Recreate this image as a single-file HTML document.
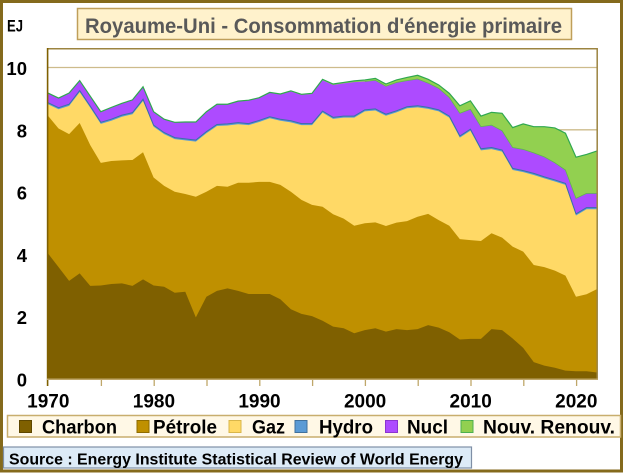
<!DOCTYPE html>
<html><head><meta charset="utf-8"><style>html,body{margin:0;padding:0;background:#fff;}svg{display:block;}</style></head>
<body>
<svg width="626" height="474" viewBox="0 0 626 474" xmlns="http://www.w3.org/2000/svg" font-family="'Liberation Sans', Arial, sans-serif" font-weight="bold">
<defs><clipPath id="pc"><rect x="48" y="48.5" width="549.5" height="330.5"/></clipPath></defs>
<rect x="0" y="0" width="626" height="474" fill="#fff"/>
<rect x="1.5" y="1.5" width="620" height="469.5" fill="none" stroke="#846A1C" stroke-width="3"/>

<!-- Title -->
<rect x="77.5" y="8.5" width="494" height="31" fill="#FFF2CC" stroke="#BF9F5A" stroke-width="1.5"/>
<text x="85" y="33" font-size="21" fill="#595959" textLength="477" lengthAdjust="spacingAndGlyphs">Royaume-Uni - Consommation d'énergie primaire</text>
<text x="7" y="31.5" font-size="17" fill="#000" textLength="16" lengthAdjust="spacingAndGlyphs">EJ</text>

<!-- plot bg -->
<rect x="48" y="48.5" width="549.5" height="330.5" fill="#fff"/>
<g stroke="#CDBB8B" stroke-width="1.3">
<line x1="48" x2="597.5" y1="67.5" y2="67.5"/>
<line x1="48" x2="597.5" y1="129.8" y2="129.8"/>
<line x1="48" x2="597.5" y1="192.1" y2="192.1"/>
<line x1="48" x2="597.5" y1="254.4" y2="254.4"/>
<line x1="48" x2="597.5" y1="316.7" y2="316.7"/>
</g>

<g clip-path="url(#pc)">
<g transform="translate(48,379) scale(10.56,-31.15)">
<!-- Renouv (total) -->
<polygon fill="#92D050" points="0,0 0,9.18 1,9.02 2,9.18 3,9.58 4,9.08 5,8.58 6,8.72 7,8.85 8,8.96 9,9.38 10,8.58 11,8.34 12,8.24 13,8.25 14,8.25 15,8.58 16,8.82 17,8.82 18,8.92 19,8.95 20,9.03 21,9.2 22,9.15 23,9.25 24,9.14 25,9.17 26,9.62 27,9.47 28,9.52 29,9.57 30,9.6 31,9.65 32,9.47 33,9.6 34,9.68 35,9.75 36,9.62 37,9.44 38,9.17 39,8.77 40,8.93 41,8.44 42,8.56 43,8.53 44,8.07 45,8.19 46,8.1 47,8.1 48,8.06 49,7.89 50,7.12 51,7.21 52,7.32 52,0"/>
<!-- Nucl -->
<polygon fill="#AD4BFF" points="0,0 0,9.18 1,9.02 2,9.18 3,9.58 4,9.08 5,8.58 6,8.72 7,8.85 8,8.96 9,9.38 10,8.58 11,8.34 12,8.24 13,8.25 14,8.25 15,8.58 16,8.82 17,8.82 18,8.92 19,8.95 20,9.02 21,9.19 22,9.13 23,9.23 24,9.12 25,9.15 26,9.59 27,9.44 28,9.49 29,9.53 30,9.55 31,9.59 32,9.4 33,9.52 34,9.58 35,9.63 36,9.5 37,9.33 38,9.04 39,8.53 40,8.66 41,8.1 42,8.15 43,7.97 44,7.43 45,7.37 46,7.26 47,7.13 48,6.94 49,6.71 50,5.8 51,5.96 52,5.96 52,0"/>
<!-- Hydro -->
<polygon fill="#5B9BD5" points="0,0 0,8.87 1,8.71 2,8.82 3,9.26 4,8.76 5,8.24 6,8.34 7,8.47 8,8.55 9,8.98 10,8.15 11,7.91 12,7.75 13,7.71 14,7.67 15,7.94 16,8.17 17,8.19 18,8.23 19,8.2 20,8.3 21,8.42 22,8.34 23,8.29 24,8.2 25,8.2 26,8.6 27,8.4 28,8.44 29,8.44 30,8.64 31,8.67 32,8.5 33,8.61 34,8.74 35,8.77 36,8.72 37,8.64 38,8.44 39,7.8 40,8.02 41,7.39 42,7.43 43,7.35 44,6.76 45,6.69 46,6.6 47,6.49 48,6.39 49,6.28 50,5.3 51,5.5 52,5.5 52,0"/>
<!-- Gaz -->
<polygon fill="#FFD966" points="0,0 0,8.82 1,8.66 2,8.77 3,9.21 4,8.71 5,8.19 6,8.29 7,8.42 8,8.5 9,8.93 10,8.1 11,7.86 12,7.7 13,7.66 14,7.62 15,7.89 16,8.12 17,8.14 18,8.18 19,8.15 20,8.25 21,8.37 22,8.29 23,8.24 24,8.15 25,8.15 26,8.55 27,8.35 28,8.39 29,8.39 30,8.59 31,8.62 32,8.45 33,8.56 34,8.69 35,8.72 36,8.67 37,8.59 38,8.39 39,7.75 40,7.97 41,7.34 42,7.38 43,7.3 44,6.71 45,6.64 46,6.55 47,6.44 48,6.34 49,6.23 50,5.25 51,5.45 52,5.45 52,0"/>
<!-- Petrole -->
<polygon fill="#BF9000" points="0,0 0,8.45 1,8.04 2,7.86 3,8.22 4,7.51 5,6.94 6,7.0 7,7.02 8,7.03 9,7.28 10,6.47 11,6.2 12,6.01 13,5.94 14,5.85 15,6.01 16,6.2 17,6.17 18,6.3 19,6.3 20,6.33 21,6.33 22,6.23 23,6.01 24,5.75 25,5.59 26,5.53 27,5.29 28,5.15 29,4.92 30,5.0 31,5.03 32,4.91 33,5.02 34,5.07 35,5.21 36,5.3 37,5.1 38,4.92 39,4.49 40,4.46 41,4.43 42,4.68 43,4.54 44,4.25 45,4.09 46,3.66 47,3.59 48,3.48 49,3.32 50,2.64 51,2.72 52,2.89 52,0"/>
<!-- Charbon -->
<polygon fill="#7F6000" points="0,0 0,4.03 1,3.59 2,3.15 3,3.39 4,2.99 5,3.0 6,3.05 7,3.07 8,2.99 9,3.2 10,3.0 11,2.96 12,2.77 13,2.8 14,1.98 15,2.64 16,2.83 17,2.91 18,2.83 19,2.73 20,2.73 21,2.73 22,2.56 23,2.24 24,2.09 25,2.02 26,1.87 27,1.68 28,1.63 29,1.47 30,1.57 31,1.63 32,1.52 33,1.6 34,1.57 35,1.6 36,1.73 37,1.65 38,1.5 39,1.27 40,1.29 41,1.29 42,1.6 43,1.57 44,1.3 45,1.0 46,0.54 47,0.43 48,0.36 49,0.27 50,0.25 51,0.25 52,0.21 52,0"/>
<!-- hydro edge -->
<polyline fill="none" stroke="#3A6FA8" stroke-width="1" vector-effect="non-scaling-stroke" points="0,8.87 1,8.71 2,8.82 3,9.26 4,8.76 5,8.24 6,8.34 7,8.47 8,8.55 9,8.98 10,8.15 11,7.91 12,7.75 13,7.71 14,7.67 15,7.94 16,8.17 17,8.19 18,8.23 19,8.2 20,8.3 21,8.42 22,8.34 23,8.29 24,8.2 25,8.2 26,8.6 27,8.4 28,8.44 29,8.44 30,8.64 31,8.67 32,8.5 33,8.61 34,8.74 35,8.77 36,8.72 37,8.64 38,8.44 39,7.8 40,8.02 41,7.39 42,7.43 43,7.35 44,6.76 45,6.69 46,6.6 47,6.49 48,6.39 49,6.28 50,5.3 51,5.5 52,5.5"/>
<!-- renew bottom edge -->
<polyline fill="none" stroke="#5DB84E" stroke-width="0.8" vector-effect="non-scaling-stroke" points="30,9.55 31,9.59 32,9.4 33,9.52 34,9.58 35,9.63 36,9.5 37,9.33 38,9.04 39,8.53 40,8.66 41,8.1 42,8.15 43,7.97 44,7.43 45,7.37 46,7.26 47,7.13 48,6.94 49,6.71 50,5.8 51,5.96 52,5.96"/>
<!-- top edge -->
<polyline fill="none" stroke="#2FA84F" stroke-width="1.2" vector-effect="non-scaling-stroke" points="0,9.18 1,9.02 2,9.18 3,9.58 4,9.08 5,8.58 6,8.72 7,8.85 8,8.96 9,9.38 10,8.58 11,8.34 12,8.24 13,8.25 14,8.25 15,8.58 16,8.82 17,8.82 18,8.92 19,8.95 20,9.03 21,9.2 22,9.15 23,9.25 24,9.14 25,9.17 26,9.62 27,9.47 28,9.52 29,9.57 30,9.6 31,9.65 32,9.47 33,9.6 34,9.68 35,9.75 36,9.62 37,9.44 38,9.17 39,8.77 40,8.93 41,8.44 42,8.56 43,8.53 44,8.07 45,8.19 46,8.1 47,8.1 48,8.06 49,7.89 50,7.12 51,7.21 52,7.32"/>
</g>
</g>

<!-- plot border & axes -->
<line x1="47.5" x2="597.5" y1="48.75" y2="48.75" stroke="#9C8440" stroke-width="1.5"/>
<line x1="597.2" x2="597.2" y1="48" y2="379" stroke="#9C8440" stroke-width="1.5"/>
<line x1="47.6" x2="47.6" y1="48" y2="386" stroke="#7F6000" stroke-width="1.6"/>
<line x1="47" x2="598" y1="379.2" y2="379.2" stroke="#BFA76A" stroke-width="1.5"/>
<g stroke="#BFA76A" stroke-width="1.3">
<line x1="101.4" x2="101.4" y1="379" y2="386"/>
<line x1="154.2" x2="154.2" y1="379" y2="386"/>
<line x1="207" x2="207" y1="379" y2="386"/>
<line x1="259.8" x2="259.8" y1="379" y2="386"/>
<line x1="312.6" x2="312.6" y1="379" y2="386"/>
<line x1="365.4" x2="365.4" y1="379" y2="386"/>
<line x1="418.2" x2="418.2" y1="379" y2="386"/>
<line x1="471" x2="471" y1="379" y2="386"/>
<line x1="523.8" x2="523.8" y1="379" y2="386"/>
<line x1="576.6" x2="576.6" y1="379" y2="386"/>
</g>

<!-- Y labels -->
<g font-size="18.5" fill="#000" text-anchor="end">
<text x="27" y="75">10</text>
<text x="27" y="137.3">8</text>
<text x="27" y="199.6">6</text>
<text x="27" y="261.9">4</text>
<text x="27" y="324.2">2</text>
<text x="27" y="386.5">0</text>
</g>
<!-- X labels -->
<g font-size="19" fill="#000" text-anchor="middle">
<text x="48.3" y="407.5">1970</text>
<text x="153.9" y="407.5">1980</text>
<text x="259.5" y="407.5">1990</text>
<text x="365.1" y="407.5">2000</text>
<text x="470.7" y="407.5">2010</text>
<text x="576.3" y="407.5">2020</text>
</g>

<!-- Legend -->
<rect x="7.5" y="415.5" width="613" height="21.5" fill="#FFF8E6" stroke="#C8AE6E" stroke-width="1.5"/>
<g stroke-width="1">
<rect x="19.5" y="420.5" width="12" height="12" fill="#7F6000" stroke="#5E4700"/>
<rect x="137" y="420.5" width="12" height="12" fill="#BF9000" stroke="#8F6C00"/>
<rect x="229" y="420.5" width="12" height="12" fill="#FFD966" stroke="#D9B64A"/>
<rect x="295" y="420.5" width="12" height="12" fill="#5B9BD5" stroke="#41719C"/>
<rect x="385.5" y="420.5" width="12" height="12" fill="#AD4BFF" stroke="#8A35D0"/>
<rect x="461" y="420.5" width="12" height="12" fill="#92D050" stroke="#4CAF50"/>
</g>
<g font-size="19.5" fill="#000">
<text x="42" y="433.3" textLength="75" lengthAdjust="spacingAndGlyphs">Charbon</text>
<text x="153" y="433.3" textLength="64" lengthAdjust="spacingAndGlyphs">Pétrole</text>
<text x="252" y="433.3" textLength="33" lengthAdjust="spacingAndGlyphs">Gaz</text>
<text x="319" y="433.3" textLength="54" lengthAdjust="spacingAndGlyphs">Hydro</text>
<text x="407" y="433.3" textLength="41" lengthAdjust="spacingAndGlyphs">Nucl</text>
<text x="483" y="433.3" textLength="132" lengthAdjust="spacingAndGlyphs">Nouv. Renouv.</text>
</g>

<!-- Source -->
<rect x="3.5" y="447" width="468" height="21" fill="#DDEBF7" stroke="#7F8FA6" stroke-width="1.2"/>
<text x="9" y="464.5" font-size="16" fill="#000" textLength="454" lengthAdjust="spacingAndGlyphs">Source : Energy Institute Statistical Review of World Energy</text>
</svg>
</body></html>
